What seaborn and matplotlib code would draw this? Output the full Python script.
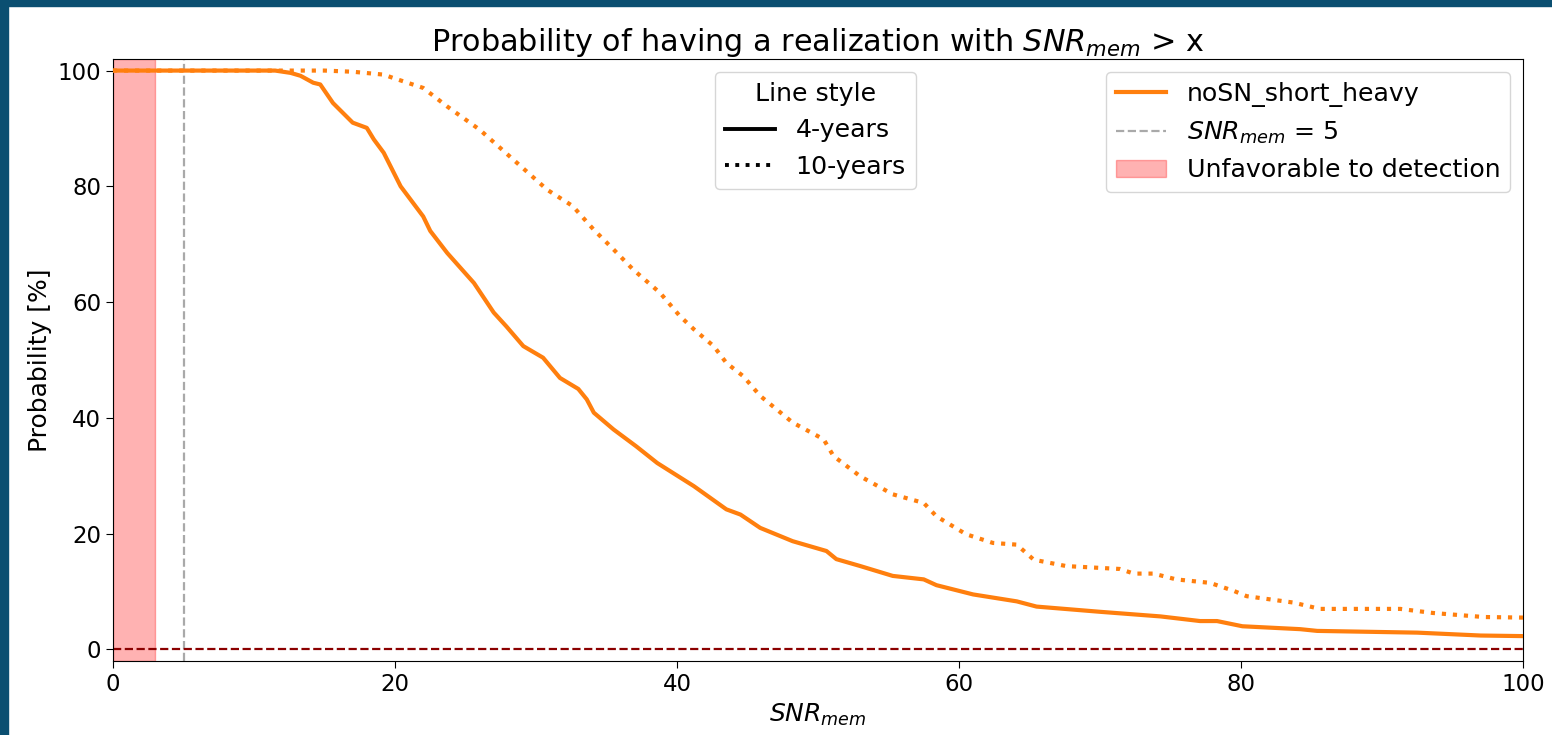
import matplotlib
matplotlib.use("Agg")
import matplotlib.pyplot as plt
from matplotlib.lines import Line2D
from matplotlib.patches import Patch, Rectangle
import seaborn as sns
import pandas as pd

# Survival curves: probability (%) of a realization exceeding a given SNR_mem
snr_4yr = [0, 11.5, 12.6, 13.3, 14.2, 14.7, 15.6, 17.0, 18.0, 18.5, 19.2, 20.4, 22.0,
           22.5, 23.7, 25.6, 27.0, 27.9, 29.1, 30.5, 31.7, 33.0, 33.6, 34.1, 35.5,
           37.1, 38.6, 41.2, 43.5, 44.5, 45.9, 48.2, 50.6, 51.3, 53.0, 55.3, 57.5,
           58.4, 61.0, 64.1, 65.5, 70.0, 74.3, 77.1, 78.3, 80.1, 84.2, 85.4, 92.5,
           97.0, 100]
prob_4yr = [100, 100, 99.6, 99.1, 97.9, 97.6, 94.4, 91.0, 90.1, 88.1, 85.8, 80.0, 74.8,
            72.3, 68.5, 63.3, 58.2, 55.8, 52.4, 50.4, 46.9, 45.0, 43.2, 40.9, 38.0,
            35.1, 32.2, 28.2, 24.2, 23.3, 21.0, 18.7, 17.0, 15.6, 14.4, 12.7, 12.1,
            11.1, 9.5, 8.3, 7.4, 6.5, 5.7, 4.9, 4.9, 4.0, 3.5, 3.2, 2.9,
            2.4, 2.3]

snr_10yr = [0, 15, 17, 19.2, 19.9, 22.0, 23.7, 26.0, 28.4, 30.8, 32.6, 34.1, 35.5,
            36.9, 38.8, 40.2, 41.2, 42.6, 43.5, 44.7, 45.9, 48.2, 50.4, 51.1, 53.0,
            55.3, 57.5, 58.4, 60.5, 62.4, 64.1, 65.3, 67.6, 71.4, 72.4, 73.8, 75.4,
            77.8, 79.5, 80.4, 83.7, 85.6, 91.3, 93.6, 97.2, 100]
prob_10yr = [100, 100, 99.8, 99.3, 98.7, 97.0, 93.8, 89.8, 84.6, 79.4, 76.6, 72.5, 69.1,
             65.6, 61.6, 57.6, 55.3, 52.4, 49.5, 47.2, 43.8, 39.2, 36.3, 33.4, 29.9,
             26.8, 25.3, 23.0, 19.9, 18.4, 18.1, 15.5, 14.4, 13.9, 13.1, 13.1, 12.1,
             11.5, 10.1, 9.2, 8.1, 7.0, 7.0, 6.3, 5.6, 5.5]

model_name = "noSN_short_heavy"
durations = ["4-years", "10-years"]
snr_threshold = 5
unfavorable_max = 3

TICK_FS = 16.5
LABEL_FS = 18
LEGEND_FS = 18.2
TITLE_FS = 21.8
plt.rcParams.update({"font.size": LABEL_FS, "font.family": ["DejaVu Sans"]})

fig = plt.figure(figsize=(15.52, 7.35), dpi=100)
ax = fig.add_axes([113 / 1552, 1 - 661 / 735, 1410 / 1552, 602 / 735])

orange = "#ff7f0e"
df4 = pd.DataFrame({"snr": snr_4yr, "prob": prob_4yr})
df10 = pd.DataFrame({"snr": snr_10yr, "prob": prob_10yr})

ax.axvspan(0, unfavorable_max, color="red", alpha=0.3, zorder=1)
ax.axvline(snr_threshold, color="darkgray", linestyle="--", lw=1.6, zorder=2)
ax.axhline(0, color="darkred", linestyle="--", lw=1.6, zorder=2)

sns.lineplot(data=df4, x="snr", y="prob", ax=ax, color=orange, lw=3,
             linestyle="-", zorder=3)
sns.lineplot(data=df10, x="snr", y="prob", ax=ax, color=orange, lw=3,
             linestyle=":", zorder=3)

ax.set_xlim(0, 100)
ax.set_ylim(-2, 102)
ax.set_xticks([0, 20, 40, 60, 80, 100])
ax.set_yticks([0, 20, 40, 60, 80, 100])
ax.tick_params(labelsize=TICK_FS, length=5)
ax.set_xlabel(r"$SNR_{mem}$", fontsize=LABEL_FS)
ax.set_ylabel("Probability [%]", fontsize=LABEL_FS)
ax.set_title(r"Probability of having a realization with $SNR_{mem}$ > x",
             fontsize=TITLE_FS, pad=5)

style_handles = [Line2D([], [], color="black", lw=2.8, linestyle="-"),
                 Line2D([], [], color="black", lw=2.8, linestyle=":")]
leg1 = ax.legend(style_handles, durations, title="Line style", loc="upper center",
                 bbox_to_anchor=(0.498, 1.0), fontsize=LEGEND_FS,
                 title_fontsize=LEGEND_FS)
ax.add_artist(leg1)

info_handles = [Line2D([], [], color=orange, lw=3),
                Line2D([], [], color="darkgray", lw=1.6, linestyle="--"),
                Patch(facecolor="red", edgecolor="red", alpha=0.3)]
info_labels = [model_name, r"$SNR_{mem}$ = %d" % snr_threshold, "Unfavorable to detection"]
ax.legend(info_handles, info_labels, loc="upper right", fontsize=LEGEND_FS)

# Dark frame strips along the top and left edges
frame_color = "#0b4f71"
fig.patches.append(Rectangle((0, 1 - 6 / 735), 1, 6 / 735, transform=fig.transFigure,
                             color=frame_color, zorder=10))
fig.patches.append(Rectangle((0, 0), 8 / 1552, 1, transform=fig.transFigure,
                             color=frame_color, zorder=10))

fig.savefig("out.png", dpi=100)
